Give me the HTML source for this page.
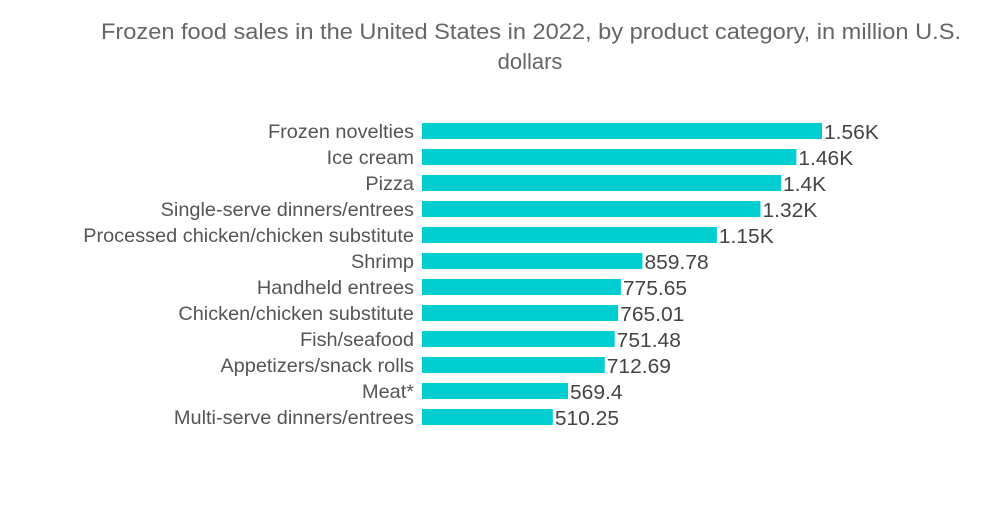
<!DOCTYPE html>
<html><head><meta charset="utf-8"><style>
body{margin:0;background:#fff;width:1000px;height:504px;overflow:hidden}
svg{font-family:"Liberation Sans",sans-serif}
</style></head><body>
<svg id="chart" width="1000" height="504" viewBox="0 0 1000 504">
<text x="101" y="39" textLength="860" lengthAdjust="spacingAndGlyphs" font-size="22" fill="#666">Frozen food sales in the United States in 2022, by product category, in million U.S.</text>
<text x="530" y="69" text-anchor="middle" font-size="22" fill="#666">dollars</text>
<g id="bars"></g>
</svg>
<script>
const categories=["Frozen novelties","Ice cream","Pizza","Single-serve dinners/entrees","Processed chicken/chicken substitute","Shrimp","Handheld entrees","Chicken/chicken substitute","Fish/seafood","Appetizers/snack rolls","Meat*","Multi-serve dinners/entrees"];
const values=[1560,1460,1400,1320,1150,859.78,775.65,765.01,751.48,712.69,569.4,510.25];
const valueLabels=["1.56K","1.46K","1.4K","1.32K","1.15K","859.78","775.65","765.01","751.48","712.69","569.4","510.25"];
const x0=422, scale=400/1560, rowTop=123, rowStep=26, barH=16;
const xs=v=>x0+v*scale;
const ys=i=>rowTop+i*rowStep;
const g=document.getElementById('bars');
const ns='http://www.w3.org/2000/svg';
categories.forEach((c,i)=>{
  const t=document.createElementNS(ns,'text');
  
  
  t.setAttribute('x',414);t.setAttribute('y',ys(i)+15);t.setAttribute('text-anchor','end');
  t.setAttribute('font-size','19');t.setAttribute('fill','#555');t.textContent=c;g.appendChild(t);
  t.setAttribute('transform','translate(414,0) scale(1.048,1) translate(-414,0)');
  const r=document.createElementNS(ns,'rect');
  
  
  r.setAttribute('x',x0);r.setAttribute('y',ys(i));r.setAttribute('width',xs(values[i])-x0);r.setAttribute('height',barH);
  r.setAttribute('fill','#00CED1');g.appendChild(r);
  const v=document.createElementNS(ns,'text');
  
  
  const vx=xs(values[i])+2;
  v.setAttribute('x',vx);v.setAttribute('y',ys(i)+16);
  v.setAttribute('font-size','20');v.setAttribute('fill','#444');v.textContent=valueLabels[i];
  v.setAttribute('transform','translate('+vx+',0) scale(1.05,1) translate('+(-vx)+',0)');
  g.appendChild(v);
});
</script>
</body></html>
